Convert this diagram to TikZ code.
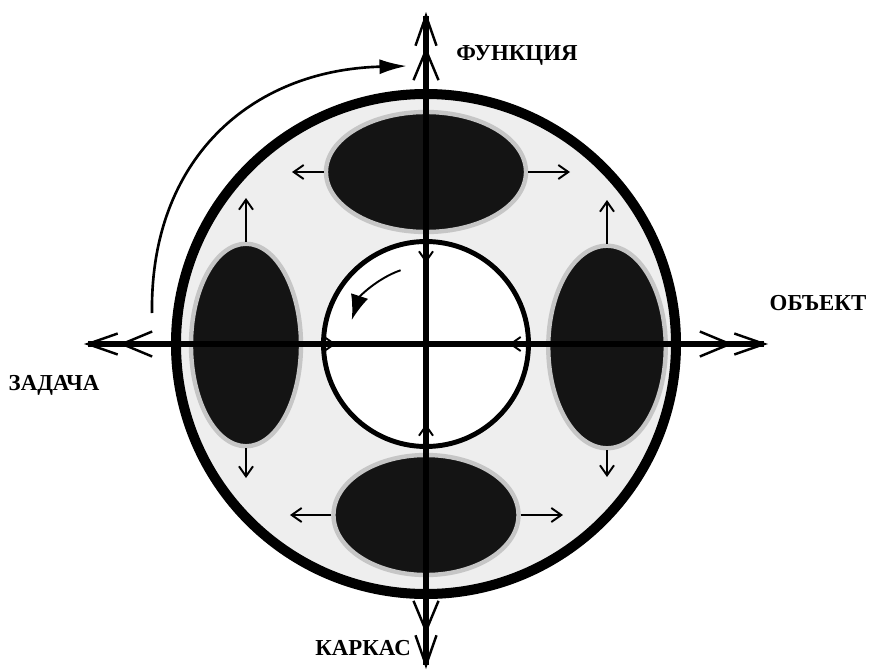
\documentclass[tikz,border=0pt]{standalone}
\usepackage{fontspec}
\setmainfont{Liberation Serif}
\usetikzlibrary{arrows.meta, positioning, shapes.geometric}

\begin{document}
\begin{tikzpicture}[
  blob/.style={ellipse, draw=gray!45, line width=2.5pt, fill=black!92, inner sep=0pt},
  shaft/.style={line width=3.4pt, shorten >=2pt},
  axtip/.style={line width=1.4pt,
    -{Straight Barb[length=0.6cm,width=0.5cm] Straight Barb[length=0.6cm,width=0.42cm]}},
  small/.style={line width=1.1pt, -{Straight Barb[length=0.2cm,width=0.28cm]}},
  lbl/.style={font=\bfseries\fontsize{13}{15}\selectfont}
]
  \useasboundingbox (-8.52,-6.54) rectangle (8.86,6.88);
  \coordinate (O) at (0,0);

  \node[circle, draw, line width=5.7pt, fill=gray!13, minimum size=10cm, inner sep=0pt] (rim) at (O) {};

  \node[blob, minimum width=4.0cm,  minimum height=2.4cm]  (func) at (0, 3.44) {};
  \node[blob, minimum width=3.7cm,  minimum height=2.4cm]  (carc) at (0,-3.42) {};
  \node[blob, minimum width=2.2cm,  minimum height=4.05cm] (task) at (-3.6,-0.02) {};
  \node[blob, minimum width=2.35cm, minimum height=4.05cm] (obj)  at (3.62,-0.06) {};

  \node[circle, draw, line width=2.8pt, fill=white, minimum size=4.1cm, inner sep=0pt] (core) at (O) {};

  % axes
  \coordinate (aN) at (0, 6.64);
  \coordinate (aS) at (0,-6.5);
  \coordinate (aW) at (-6.84,0);
  \coordinate (aE) at (6.84,0);
  \foreach \e in {aN,aE,aS,aW} {
    \draw[shaft] (O) -- (\e);
    \draw[axtip] (O) -- (\e);
  }

  % small arrows round the ellipses
  \coordinate (fL) at (-2.68, 3.44);
  \coordinate (fR) at ( 2.88, 3.44);
  \coordinate (cL) at (-2.72,-3.42);
  \coordinate (cR) at ( 2.74,-3.42);
  \coordinate (tU) at (-3.6, 2.92);
  \coordinate (tD) at (-3.6,-2.68);
  \coordinate (oU) at (3.62, 2.88);
  \coordinate (oD) at (3.62,-2.66);
  \draw[small] (func.west)  -- (fL);
  \draw[small] (func.east)  -- (fR);
  \draw[small] (carc.west)  -- (cL);
  \draw[small] (carc.east)  -- (cR);
  \draw[small] (task.north) -- (tU);
  \draw[small] (task.south) -- (tD);
  \draw[small] (obj.north)  -- (oU);
  \draw[small] (obj.south)  -- (oD);

  % tips inside the core
  \coordinate (iN) at (0, 1.62);
  \coordinate (iS) at (0,-1.6);
  \coordinate (iW) at (-1.8,0);
  \coordinate (iE) at (1.66,0);
  \draw[small] (core.north) -- (iN);
  \draw[small] (core.south) -- (iS);
  \draw[small] (core.west)  -- (iW);
  \draw[small] (core.east)  -- (iE);

  % rotation arrows
  \coordinate (cS) at (-5.48,0.62);
  \coordinate (cE) at (-0.38,5.56);
  \draw[line width=1.5pt, -{Latex[length=0.55cm,width=0.3cm]}]
    (cS) .. controls (-5.52,3.68) and (-3.52,5.48) .. (cE);
  \coordinate (rS) at (109:1.56);
  \draw[line width=1.1pt, -{Latex[length=0.5cm,width=0.36cm]}]
    (rS) arc[start angle=109, end angle=162, radius=1.56];

  \node[lbl] (lN) at (1.82, 5.78)  {ФУНКЦИЯ};
  \node[lbl] (lE) at (7.84, 0.82)  {ОБЪЕКТ};
  \node[lbl] (lW) at (-7.44,-0.82) {ЗАДАЧА};
  \node[lbl, anchor=east] (lS) at (-0.18,-6.08) {КАРКАС};
\end{tikzpicture}
\end{document}
